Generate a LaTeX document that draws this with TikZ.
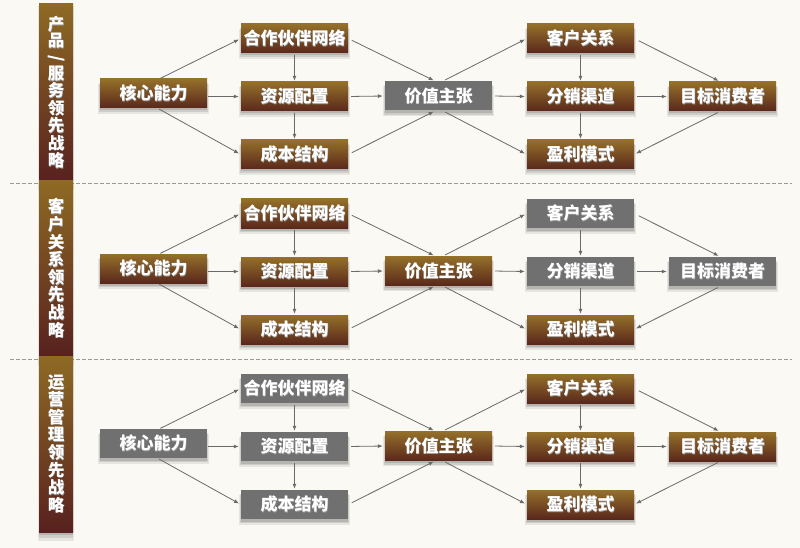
\documentclass[tikz,border=0pt]{standalone}
\usepackage{fontspec}
\newfontfamily\cjk{Noto Sans CJK SC}
\usetikzlibrary{arrows.meta,shadows}
\definecolor{bgc}{HTML}{FBF9F4}
\definecolor{brtop}{HTML}{94702A}
\definecolor{brbot}{HTML}{5A281B}
\definecolor{bartop}{HTML}{8E6A24}
\definecolor{barbot}{HTML}{58211F}
\definecolor{grayn}{HTML}{707070}
\definecolor{arrc}{HTML}{6A6A6A}
\definecolor{dashc}{HTML}{9A9A9A}
\newcommand\tsh[1]{\rlap{\kern0.7pt\raisebox{-0.7pt}{\color{black!40}#1}}#1}
\tikzset{
  softshadow/.style={
    drop shadow={shadow xshift=0pt, shadow yshift=-5pt, shadow scale=1.04, opacity=0.08, fill=black},
    drop shadow={shadow xshift=0pt, shadow yshift=-4pt, shadow scale=1.02, opacity=0.10, fill=black},
    drop shadow={shadow xshift=0pt, shadow yshift=-2.5pt, opacity=0.12, fill=black}},
  boxbase/.style={minimum width=107pt, minimum height=29pt, inner sep=0pt,
    text=white, font=\cjk\bfseries\fontsize{17}{18}\selectfont, softshadow},
  bn/.style={boxbase, top color=brtop, bottom color=brbot},
  gn/.style={boxbase, fill=grayn},
  sidebar/.style={minimum width=34pt, inner sep=0pt, text=white, align=center,
    top color=bartop, bottom color=barbot, softshadow},
  arr/.style={draw=arrc, line width=0.8pt, -{Latex[length=5pt,width=4pt]},
    shorten <=3pt, shorten >=2pt},
}
\begin{document}
\begin{tikzpicture}[x=1pt,y=-1pt]
\fill[bgc] (0,0) rectangle (800,548);
\useasboundingbox (0,0) rectangle (800,548);
% dashed separators
\coordinate (d1a) at (10,183); \coordinate (d1b) at (792,183);
\coordinate (d2a) at (10,359); \coordinate (d2b) at (792,359);
\draw[dashc, line width=0.8pt, dash pattern=on 4pt off 2pt] (d1a) -- (d1b);
\draw[dashc, line width=0.8pt, dash pattern=on 4pt off 2pt] (d2a) -- (d2b);
% side bars
\node[sidebar, minimum height=177pt, font=\cjk\bfseries\fontsize{16.5}{16.3}\selectfont] (bar1) at (56,92.5)
  {\tsh{产}\\\tsh{品}\\\rotatebox[origin=c]{-90}{\tsh{/}}\\\tsh{服}\\\tsh{务}\\\tsh{领}\\\tsh{先}\\\tsh{战}\\\tsh{略}};
\node[sidebar, minimum height=175pt, font=\cjk\bfseries\fontsize{16.5}{17.6}\selectfont] (bar2) at (56,268.5)
  {\tsh{客}\\\tsh{户}\\\tsh{关}\\\tsh{系}\\\tsh{领}\\\tsh{先}\\\tsh{战}\\\tsh{略}};
\node[sidebar, minimum height=176pt, font=\cjk\bfseries\fontsize{16.5}{17.6}\selectfont] (bar3) at (56,444)
  {\tsh{运}\\\tsh{营}\\\tsh{管}\\\tsh{理}\\\tsh{领}\\\tsh{先}\\\tsh{战}\\\tsh{略}};
% nodes
\foreach \i/\dy/\sa/\sb/\sc/\sd/\se/\sf/\sg/\sh/\sj in
  {1/0/bn/bn/bn/bn/gn/bn/bn/bn/bn,
   2/175/bn/bn/bn/bn/bn/gn/gn/bn/gn,
   3/350/gn/gn/gn/gn/bn/bn/bn/bn/bn}{
  \node[\sa] (hx\i) at (153.5,93.5+\dy) {\tsh{核心能力}};
  \node[\sb] (hz\i) at (294.5,38.5+\dy) {\tsh{合作伙伴网络}};
  \node[\sc] (zy\i) at (294.5,96.5+\dy) {\tsh{资源配置}};
  \node[\sd] (cb\i) at (294.5,154.5+\dy) {\tsh{成本结构}};
  \node[\se] (jz\i) at (438.5,96+\dy) {\tsh{价值主张}};
  \node[\sf] (kh\i) at (580.5,38.5+\dy) {\tsh{客户关系}};
  \node[\sg] (fx\i) at (580.5,96.5+\dy) {\tsh{分销渠道}};
  \node[\sh] (yl\i) at (580.5,154.5+\dy) {\tsh{盈利模式}};
  \node[\sj] (mb\i) at (722.5,96.5+\dy) {\tsh{目标消费者}};
}
% connectors
\foreach \i in {1,2,3}{
  \draw[arr, shorten <=1pt] ([xshift=6pt]hx\i.north) -- (hz\i.west);
  \draw[arr, shorten <=1pt] (hx\i.east |- zy\i.west) -- (zy\i.west);
  \draw[arr, shorten <=2pt] ([xshift=4pt]hx\i.south) -- (cb\i.west);
  \draw[arr, shorten <=2pt, shorten >=1pt] (hz\i.south) -- (zy\i.north);
  \draw[arr, shorten <=2pt, shorten >=1pt] (zy\i.south) -- (cb\i.north);
  \draw[arr, shorten <=4pt] (hz\i.east) -- ([xshift=-3pt]jz\i.north);
  \draw[arr] (zy\i.east) -- (jz\i.west);
  \draw[arr, shorten <=4pt] (cb\i.east) -- ([xshift=-3pt]jz\i.south);
  \draw[arr] ([xshift=4pt]jz\i.north) -- (kh\i.west);
  \draw[arr] (jz\i.east) -- (fx\i.west);
  \draw[arr] ([xshift=4pt]jz\i.south) -- (yl\i.west);
  \draw[arr, shorten <=2pt, shorten >=1pt] (kh\i.south) -- (fx\i.north);
  \draw[arr, shorten <=2pt, shorten >=1pt] (fx\i.south) -- (yl\i.north);
  \draw[arr, shorten <=5pt] (kh\i.east) -- ([xshift=-2pt]mb\i.north);
  \draw[arr] (fx\i.east) -- (mb\i.west);
  \draw[arr] ([xshift=-2pt]mb\i.south) -- (yl\i.east);
}
\end{tikzpicture}
\end{document}
